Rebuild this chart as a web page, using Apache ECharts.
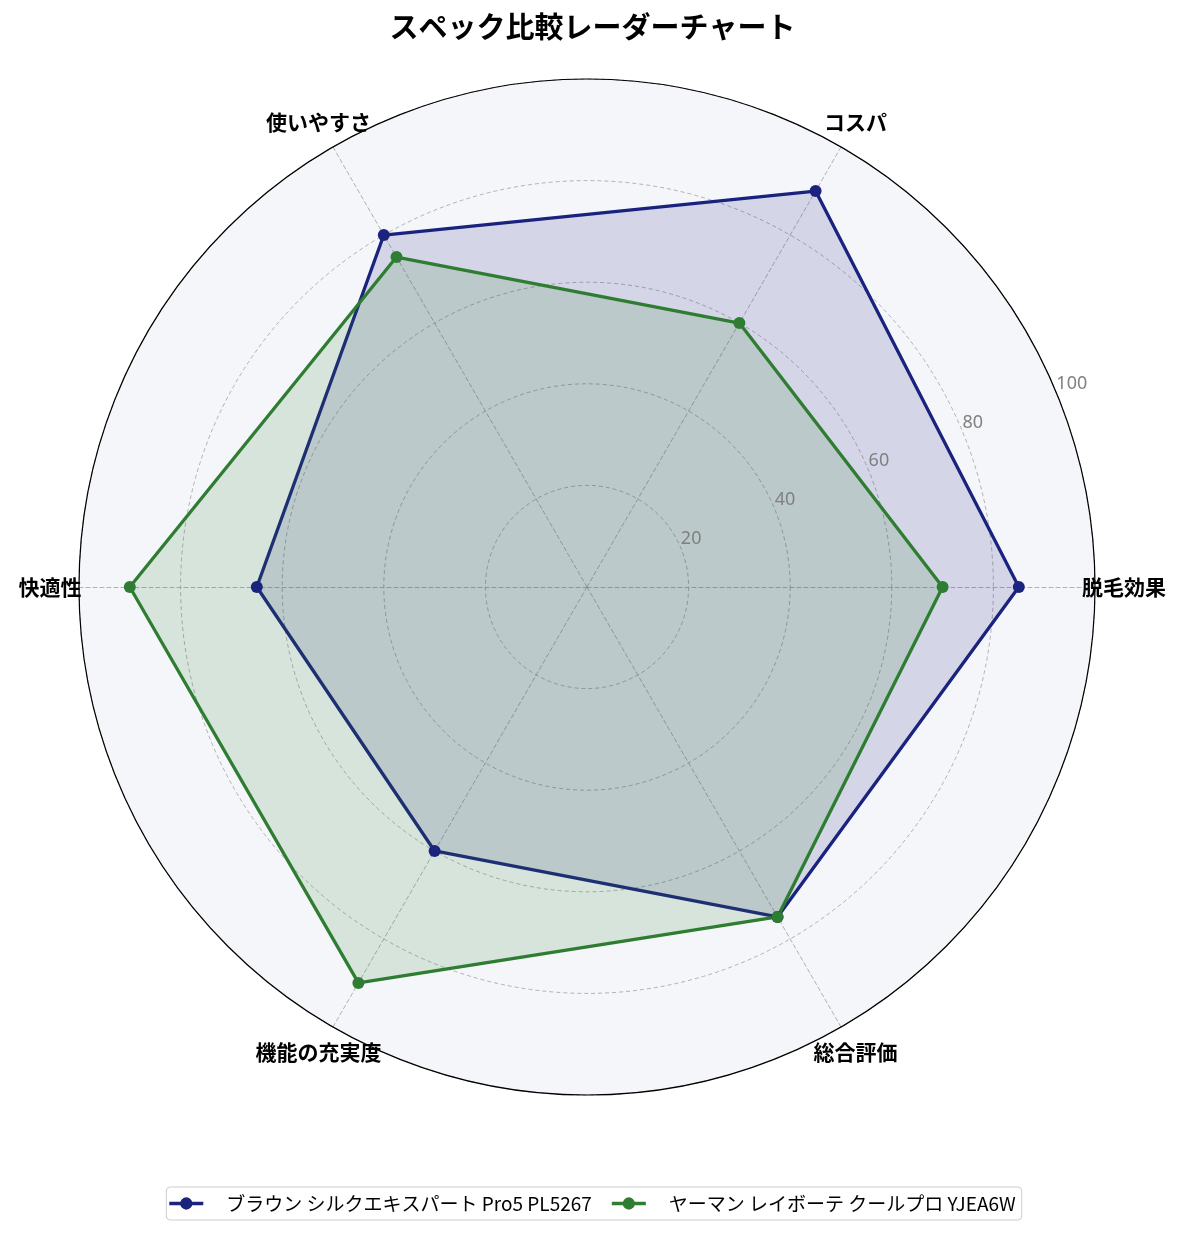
<!DOCTYPE html>
<html>
<head>
<meta charset="utf-8">
<script src="https://cdn.jsdelivr.net/npm/echarts@6/dist/echarts.min.js"></script>
<style>
html,body{margin:0;padding:0;background:#fff;}
#container{width:1185px;height:1235px;}
</style>
</head>
<body>
<div id="container"></div>
<script>
// 項目と値
var categories = ['脱毛効果', 'コスパ', '使いやすさ', '快適性', '機能の充実度', '総合評価'];
var braunName = 'ブラウン シルクエキスパート Pro5 PL5267';
var yamanName = 'ヤーマン レイボーテ クールプロ YJEA6W';
var braunValues = [85, 90, 80, 65, 60, 75];
var yamanValues = [70, 60, 75, 90, 90, 75];
var radiusTicks = [0, 20, 40, 60, 80, 100];

var navy = '#1a237e';
var green = '#2e7d32';
var legendIcon = 'path://M0,6.2L36,6.2L36,9.8L0,9.8Z M24.5,8A6.5,6.5 0 1 1 11.5,8A6.5,6.5 0 1 1 24.5,8Z';
var jpFont = "Noto Sans CJK JP";

var dom = document.getElementById("container");
var myChart = echarts.init(dom);

var option = {
    backgroundColor: '#fff',
    textStyle: {fontFamily: jpFont},
    title: {
        text: 'スペック比較レーダーチャート',
        left: 'center',
        top: 7,
        textStyle: {fontSize: 29, fontWeight: 'bold', color: '#000', fontFamily: jpFont}
    },
    legend: {
        bottom: 15,
        left: 'center',
        data: [braunName, yamanName],
        icon: legendIcon,
        itemWidth: 34,
        itemHeight: 15,
        itemGap: 20,
        borderColor: '#cccccc',
        borderWidth: 1,
        borderRadius: 4,
        padding: [7, 6, 7, 3],
        textStyle: {fontSize: 19, color: '#000', padding: [0, 0, 0, 18], fontFamily: jpFont}
    },
    radar: {
        center: [587, 587],
        radius: 508,
        startAngle: 0,
        shape: 'circle',
        splitNumber: 5,
        z: 1,
        indicator: categories.map(function (c) { return {name: c, min: 0, max: 100}; }),
        nameGap: 29,
        axisName: {
            color: '#000',
            fontSize: 21,
            fontWeight: 'bold',
            align: 'center',
            verticalAlign: 'middle',
            fontFamily: jpFont
        },
        axisLine: {lineStyle: {color: '#a0a0a0', type: [4, 3], width: 0.8}},
        splitLine: {lineStyle: {color: '#a0a0a0', type: [4, 3], width: 0.8}},
        splitArea: {show: true, areaStyle: {color: ['#f5f6fa']}},
        axisTick: {show: false},
        axisLabel: {show: false}
    },
    polar: {
        center: [587, 587],
        radius: 508
    },
    angleAxis: {
        type: 'value',
        min: 0,
        max: 360,
        startAngle: 22.5,
        clockwise: false,
        z: 5,
        axisLine: {lineStyle: {color: '#000', width: 1.2}},
        axisTick: {show: false},
        axisLabel: {show: false},
        splitLine: {show: false}
    },
    radiusAxis: {
        type: 'value',
        min: radiusTicks[0],
        max: radiusTicks[radiusTicks.length - 1],
        interval: radiusTicks[1] - radiusTicks[0],
        z: 10,
        axisLine: {show: false},
        axisTick: {show: false},
        splitLine: {show: false},
        axisLabel: {
            show: true,
            showMinLabel: false,
            margin: 0,
            align: 'left',
            verticalAlign: 'bottom',
            color: '#808080',
            fontSize: 18,
            fontFamily: 'Noto Sans'
        }
    },
    series: [
        {
            name: 'スペック',
            type: 'radar',
            z: 3,
            symbol: 'circle',
            symbolSize: 12,
            data: [
                {
                    name: braunName,
                    value: braunValues,
                    itemStyle: {color: navy},
                    lineStyle: {color: navy, width: 3.3},
                    areaStyle: {color: navy, opacity: 0.15}
                },
                {
                    name: yamanName,
                    value: yamanValues,
                    itemStyle: {color: green},
                    lineStyle: {color: green, width: 3.3},
                    areaStyle: {color: green, opacity: 0.15}
                }
            ]
        }
    ]
};

myChart.setOption(option);
</script>
</body>
</html>
